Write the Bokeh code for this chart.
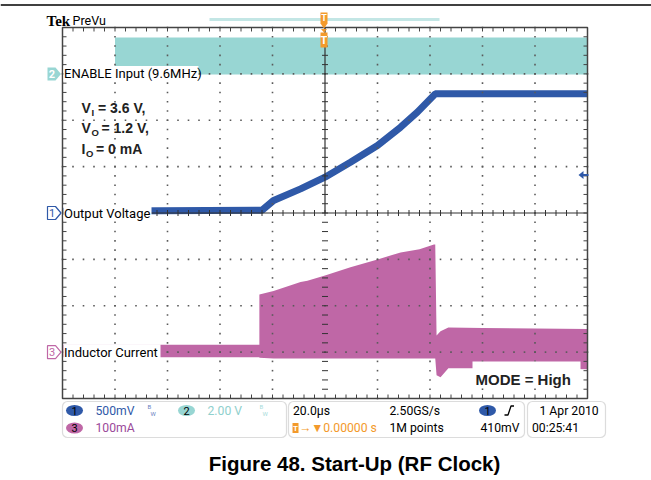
import numpy as np
from bokeh.plotting import figure
from bokeh.models import Range1d, BoxAnnotation
from bokeh.embed import file_html
from bokeh.resources import INLINE
from bokeh.core.properties import value

# ---------------- data ----------------
time_per_div = 20.0      # us/div
ch1_per_div = 0.5        # V/div  (Output Voltage)
ch2_per_div = 2.0        # V/div  (ENABLE input)
ch3_per_div = 100.0      # mA/div (Inductor Current)
ch1_gnd_div, ch2_gnd_div, ch3_gnd_div = 4, 7, 1
trig_level = 0.41        # V, ch1

en_t = [-100, -80, -80, 100]
en_hi = [0.0, 0.0, 1.57, 1.57]
en_lo = [0.0, 0.0, -0.03, -0.03]

vo_t = [-100, -24, -19.6, -9.3, 0, 9.7, 20, 28.8, 35.2, 42, 100]
vo_v = [0.02, 0.03, 0.135, 0.26, 0.386, 0.548, 0.728, 0.925, 1.087, 1.285, 1.285]

il_t = [-100, -25, -25, -19.6, -9.3, -6.7, 0, 9.7, 20, 28.8, 36, 41.5, 42, 42.5, 44, 47, 60, 80, 100]
il_top = [16, 16, 124, 132, 151, 154, 165, 183, 200, 215, 222, 232, 232, 36, 45, 53, 52, 51, 50]
il_bot = [-11, -11, -12, -14, -14, -14, -14, -14, -14, -14, -14, -14, -14, -50, -54, -35, -35, -35, -37]

ch_labels = ["ENABLE Input (9.6MHz)", "Output Voltage", "Inductor Current"]
cond_main = ["V", "V", "I"]
cond_sub = ["I", "O", "O"]
cond_rest = ["= 3.6 V,", "= 1.2 V,", "= 0 mA"]
mode_text = "MODE = High"
caption = "Figure 48. Start-Up (RF Clock)"

# ---------------- geometry (page pixels) ----------------
W, H = 651, 480
OX, OY = 0, 0
GL, GR, GT, GB = 62.0, 587.0, 27.0, 398.0
DX = (GR - GL) / 10.0
DY = (GB - GT) / 8.0
XC = (GL + GR) / 2.0
YC = (GT + GB) / 2.0
X0, X1 = OX, OX + W
Y0, Y1 = OY, OY + H


def t_of(x):
    return (x - XC) / DX * time_per_div


def v_of(y, gnd, per):
    return ((GB - y) / DY - gnd) * per


def y_of(v, gnd, per):
    return GB - (gnd + v / per) * DY


CYAN = "#98d6d3"
BLUE = "#2f59a8"
MAG = "#bf67a6"
ORANGE = "#f39a2b"
GRID = "#5a5a5a"
FONT = "Roboto"

p = figure(width=W, height=H, output_backend="svg", toolbar_location=None,
           x_range=Range1d(X0, X1), y_range=Range1d(Y1, Y0),
           x_axis_location=None, y_axis_location=None, min_border=0)
p.extra_x_ranges = {"t": Range1d(t_of(X0), t_of(X1))}
p.extra_y_ranges = {
    "ch1": Range1d(v_of(Y1, ch1_gnd_div, ch1_per_div), v_of(Y0, ch1_gnd_div, ch1_per_div)),
    "ch2": Range1d(v_of(Y1, ch2_gnd_div, ch2_per_div), v_of(Y0, ch2_gnd_div, ch2_per_div)),
    "ch3": Range1d(v_of(Y1, ch3_gnd_div, ch3_per_div), v_of(Y0, ch3_gnd_div, ch3_per_div)),
}
p.grid.visible = False
p.outline_line_color = None
p.background_fill_color = "white"
p.border_fill_color = "white"


def txt(x, y, s, size="13px", color="black", bold=False, font=FONT,
        align="left", baseline="middle"):
    p.text(x=[x], y=[y], text=[s], text_font=value(font), text_font_size=size,
           text_color=color, text_font_style="bold" if bold else "normal",
           text_align=align, text_baseline=baseline)


# ---------------- traces ----------------
p.varea(x=en_t, y1=en_lo, y2=en_hi, x_range_name="t", y_range_name="ch2",
        fill_color=CYAN)
p.line(x=vo_t, y=vo_v, x_range_name="t", y_range_name="ch1",
       line_width=7, line_color=BLUE)
p.varea(x=il_t, y1=il_bot, y2=il_top, x_range_name="t", y_range_name="ch3",
        fill_color=MAG)

# ---------------- graticule ----------------
dx_pts, dy_pts = [], []
for k in range(1, 10):
    if k == 5:
        continue
    x = GL + k * DX
    for j in range(0, 41):
        dx_pts.append(x)
        dy_pts.append(GT + j * DY / 5)
for k in range(1, 8):
    if k == 4:
        continue
    y = GT + k * DY
    for i in range(0, 51):
        dx_pts.append(GL + i * DX / 5)
        dy_pts.append(y)
p.scatter(x=dx_pts, y=dy_pts, marker="square", size=1.6, fill_color=GRID,
          line_color=None)

p.segment(x0=[XC, GL], y0=[GT, YC], x1=[XC, GR], y1=[YC, YC],
          line_color="#333333", line_width=1.2)
xs = GL + np.arange(0, 51) * DX / 5
ys = GT + np.arange(0, 41) * DY / 5
p.segment(x0=xs, y0=np.full_like(xs, YC - 3), x1=xs, y1=np.full_like(xs, YC + 3),
          line_color="#333333", line_width=1)
p.segment(x0=np.full_like(ys, XC - 3), y0=ys, x1=np.full_like(ys, XC + 3), y1=ys,
          line_color="#333333", line_width=1)
p.segment(x0=xs, y0=np.full_like(xs, GT), x1=xs, y1=np.full_like(xs, GT + 4),
          line_color="#444444", line_width=1)
p.segment(x0=xs, y0=np.full_like(xs, GB), x1=xs, y1=np.full_like(xs, GB - 4),
          line_color="#444444", line_width=1)
p.segment(x0=np.full_like(ys, GL), y0=ys, x1=np.full_like(ys, GL + 4), y1=ys,
          line_color="#444444", line_width=1)
p.segment(x0=np.full_like(ys, GR), y0=ys, x1=np.full_like(ys, GR - 4), y1=ys,
          line_color="#444444", line_width=1)
p.quad(left=[GL], right=[GR], top=[GT], bottom=[GB], fill_color=None,
       line_color="#444444", line_width=1.5)

# ---------------- top decorations ----------------
p.segment(x0=[X0], y0=[4.5], x1=[X1], y1=[4.5], line_color="black", line_width=1.5)
p.segment(x0=[209], y0=[19], x1=[439], y1=[19], line_color="#c3e6e5", line_width=3)
txt(46, 20.5, "Tek", size="15px", bold=True, font="Liberation Serif")
txt(72, 19.5, "PreVu", size="12.5px")
p.patch(x=[320, 327, 327, 323.5, 320], y=[12, 12, 23, 28, 23], fill_color=ORANGE,
        line_color=None)
txt(323.5, 17.5, "T", size="9px", color="white", bold=True, align="center")
p.patch(x=[320, 327, 327, 320], y=[32, 32, 47, 47], fill_color=ORANGE, line_color=None)
p.patch(x=[320.5, 326.5, 323.5], y=[28.5, 28.5, 32], fill_color=ORANGE, line_color=None)
txt(323.5, 40, "T", size="11px", color="white", bold=True, align="center")

ty = y_of(trig_level, ch1_gnd_div, ch1_per_div)
p.patch(x=[578, 583, 583], y=[ty, ty - 4, ty + 4], fill_color=BLUE, line_color=None)
p.segment(x0=[582], y0=[ty], x1=[588], y1=[ty], line_color=BLUE, line_width=2)

# ---------------- channel labels ----------------
lab_y = [y_of(0, ch2_gnd_div, ch2_per_div), y_of(0, ch1_gnd_div, ch1_per_div),
         y_of(0, ch3_gnd_div, ch3_per_div)]
lab_right = [198, 151, 160]
lab_cols = [CYAN, BLUE, MAG]
for i, (s, y, r, c) in enumerate(zip(ch_labels, lab_y, lab_right, lab_cols)):
    p.quad(left=[63], right=[r], top=[y - 8], bottom=[y + 7.5], fill_color="white",
           line_color=None)
    bx = [47, 55, 60.5, 55, 47]
    by = [y - 6.5, y - 6.5, y, y + 6.5, y + 6.5]
    if i == 0:
        p.patch(x=bx, y=by, fill_color=c, line_color=None)
        txt(51.5, y, "2", size="11px", color="white", bold=True, align="center")
    else:
        p.patch(x=bx, y=by, fill_color="white", line_color=c, line_width=1.2)
        txt(51.5, y, "1" if i == 1 else "3", size="11px", color=c, align="center")
    txt(63.5, y, s, size="13px")

rows_base = [107, 127.5, 148]
sub_x = [91, 91, 85.5]
rest_x = [97.5, 101, 95.5]
for m, sb, rs, yb, sx, rx in zip(cond_main, cond_sub, cond_rest, rows_base, sub_x, rest_x):
    txt(81, yb, m, size="14px", bold=True, font="Liberation Sans", baseline="alphabetic",
        color="#222222")
    txt(sx, yb + 4.5, sb, size="9.5px", bold=True, font="Liberation Sans",
        baseline="alphabetic", color="#222222")
    txt(rx, yb, rs, size="14px", bold=True, font="Liberation Sans",
        baseline="alphabetic", color="#222222")

p.quad(left=[472], right=[580], top=[361], bottom=[384], fill_color="white",
       line_color=None)
txt(475, 378.5, mode_text, size="15px", bold=True, font="Liberation Sans",
    baseline="alphabetic", color="#222222")

# ---------------- bottom info panel ----------------
for l, r in [(62, 286), (288, 524), (527, 605)]:
    p.add_layout(BoxAnnotation(left=l, right=r, top=401, bottom=437, fill_color=None,
                               line_color="#8a8a8a", line_width=1.2, border_radius=5))
R1, R2 = 410, 427.5
PF = "12.2px"
p.ellipse(x=[74, 186, 74, 487], y=[R1, R1, R2, R1], width=[17, 17, 17, 17],
          height=[11, 11, 11, 11], fill_color=[BLUE, CYAN, MAG, BLUE], line_color=None)
txt(74, R1, "1", size="11px", align="center")
txt(186, R1, "2", size="11px", align="center")
txt(74, R2, "3", size="11px", align="center")
txt(487, R1, "1", size="11px", align="center")
txt(95, R1, "500mV", size=PF, color=BLUE)
txt(207, R1, "2.00 V", size=PF, color="#8fd0cd")
txt(95, R2, "100mA", size=PF, color="#9b4a9a")
for bxp, col in [(147, "#6a7fbf"), (259, "#a8dcda")]:
    txt(bxp, 406, "B", size="6px", color=col)
    txt(bxp + 3, 413, "W", size="6px", color=col)
txt(292.5, R1, "20.0\u00b5s", size=PF)
txt(389, R1, "2.50GS/s", size=PF)
p.line(x=[504, 507.5, 510.5, 513.5], y=[414.5, 414.5, 405.5, 405.5], line_color="black",
       line_width=1.3)
txt(539, R1, "1 Apr  2010", size=PF)
p.quad(left=[292], right=[298], top=[422.5], bottom=[432.5], fill_color=ORANGE,
       line_color=None)
txt(295, R2, "T", size="8px", color="white", bold=True, align="center")
txt(298.5, R2, "\u2192\u25bc0.00000 s", size=PF, color=ORANGE)
txt(389, R2, "1M points", size=PF)
txt(480, R2, "410mV", size=PF)
txt(531.5, R2, "00:25:41", size=PF)

txt(354, 463, caption, size="20.5px", bold=True, font="Liberation Sans",
    align="center", baseline="alphabetic")

open("out.html", "w").write(file_html(p, INLINE))
